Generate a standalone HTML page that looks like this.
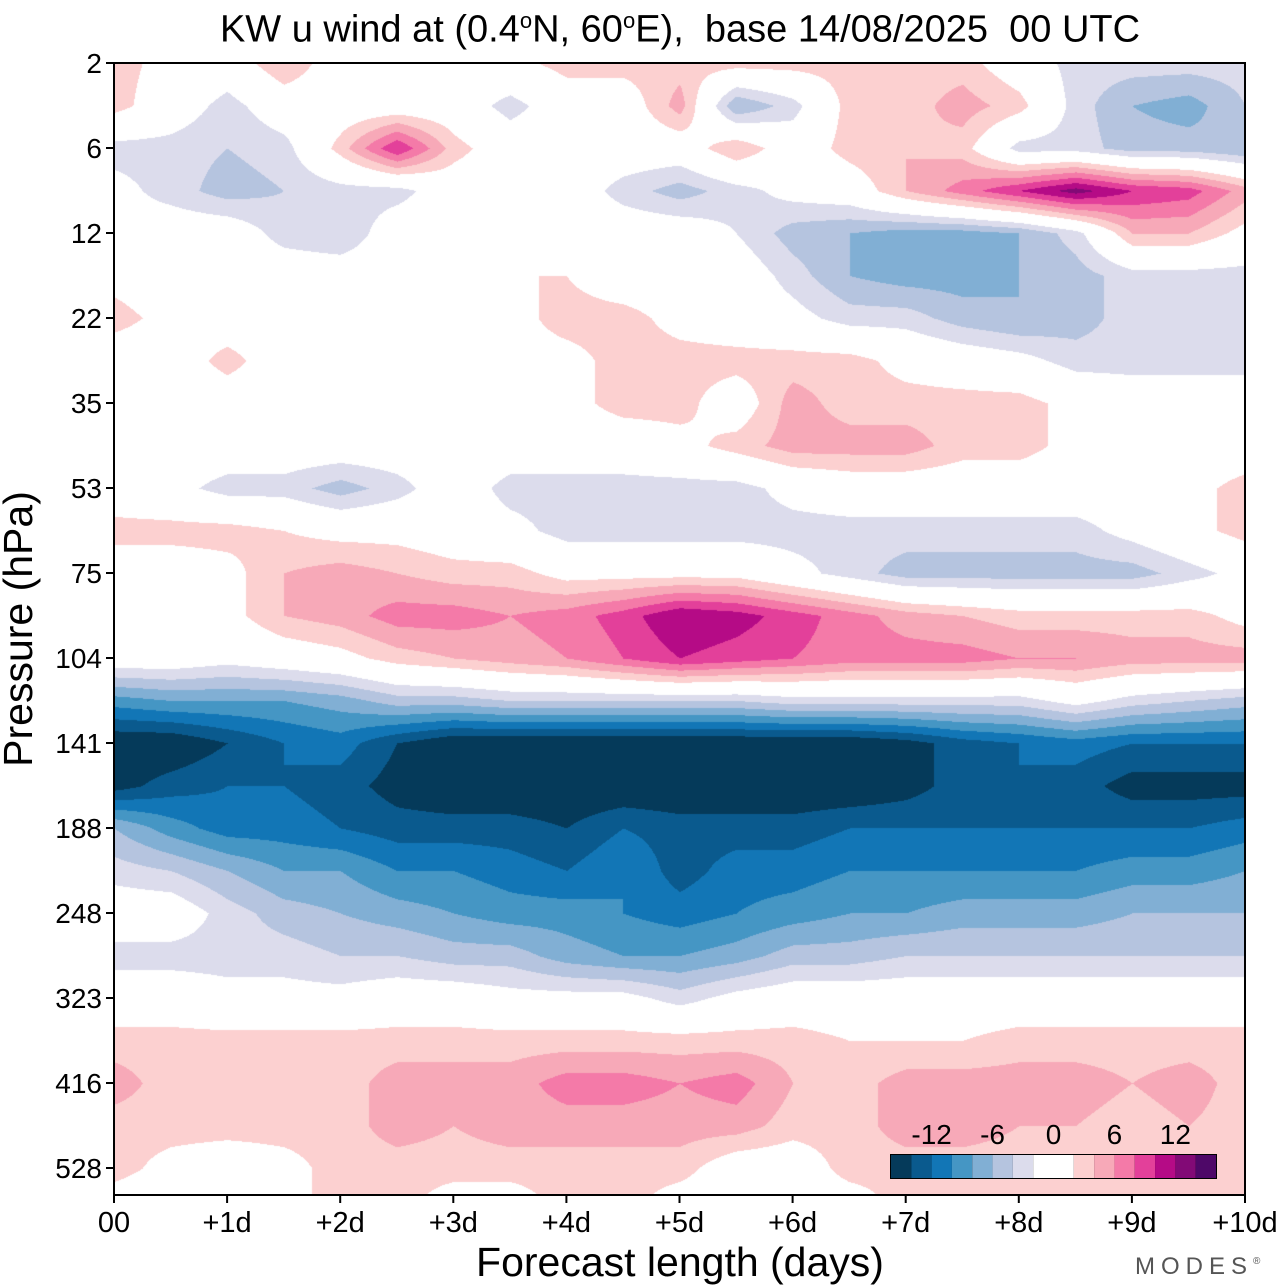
<!DOCTYPE html>
<html><head><meta charset="utf-8">
<style>
html,body{margin:0;padding:0;background:#fff;}
body{width:1280px;height:1286px;position:relative;overflow:hidden;font-family:"Liberation Sans",sans-serif;color:#000;}
.abs{position:absolute;}
</style></head>
<body>
<div class="abs" style="left:80px;width:1200px;top:-1px;text-align:center;font-size:38px;line-height:44px;">KW u wind at (0.4<sup style="font-size:22px">o</sup>N, 60<sup style="font-size:22px">o</sup>E),&nbsp; base 14/08/2025&nbsp; 00 UTC</div>
<svg class="abs" style="left:0;top:0" width="1280" height="1286">
  <foreignObject x="114" y="63" width="1131" height="1132">
    <canvas id="cv" width="1131" height="1132" xmlns="http://www.w3.org/1999/xhtml"></canvas>
  </foreignObject>
  <rect x="114" y="63" width="1131" height="1132" fill="none" stroke="#000" stroke-width="2"/>
  <g id="yaxis"></g>
  <g id="xaxis"></g>
  <g id="cbar"></g>
  <text x="32" y="629" transform="rotate(-90 32 629)" text-anchor="middle" font-size="41" font-family="Liberation Sans, sans-serif">Pressure (hPa)</text>
  <text x="680" y="1276" text-anchor="middle" font-size="41" font-family="Liberation Sans, sans-serif">Forecast length (days)</text>
  <text x="1135" y="1274" font-size="24" fill="#555" letter-spacing="6" font-family="Liberation Sans, sans-serif">MODES<tspan font-size="10" dy="-10">®</tspan></text>
</svg>
<script>
const pressureLabels = ["2","6","12","22","35","53","75","104","141","188","248","323","416","528"];
const dayLabels = ["00","+1d","+2d","+3d","+4d","+5d","+6d","+7d","+8d","+9d","+10d"];
const cbarLabels = [-12,-6,0,6,12];
const binEdges = [-14,-12,-10,-8,-6,-4,-2,0,2,4,6,8,10,12,14];
const binColors = ["#053a5a","#0a5a8e","#1276b6","#4596c4","#81afd4","#b5c4df","#dcdcec","#ffffff","#ffffff","#fcd0d0","#f7a9b8","#f47aa8","#e3409a","#b50b86","#820a76","#4e0868"];
// forecast day for each column
const colDays = [0,0.5,1,1.5,2,2.5,3,3.5,4,4.5,5,5.5,6,6.5,7,7.5,8,8.5,9,9.5,10];
// level index (0 = 2 hPa ... 13 = 528 hPa) for each row
const rowLevels = [0,0.5,1,1.5,2,2.5,3,3.5,4,4.5,5,5.5,6,6.5,7,7.5,8,8.5,9,9.5,10,10.5,11,11.5,12,12.5,13,13.32];
const uWind = [
[3,1,0,4,0,0,0,1,3,3,3,3,3,3,3,3,0,-3,-3,-3,-3],
[3,0,-3,0,0,0,0,-3,0,0,5,-6,-3,3,3,5,3,-3,-6,-7,-4],
[-3,-3,-4,-3,3,10,3,0,0,0,0,4,0,3,4,3,-3,-3,-5,-5,-6],
[-1,-3,-5,-4,-3,-3,0,0,0,-3,-5,-3,-1,0,4,7,10,13,10,9,5],
[-1,0,0,-3,-4,0,0,2,0,0,0,-2,-5,-6,-7,-7,-6,-3,4,4,1],
[1,0,0,0,0,0,0,2,2,0,0,0,-3,-6,-7,-7,-6,-5,-3,-3,-3],
[3,1,0,0,0,0,0,1,3,3,1,0,-1,-3,-3,-5,-6,-5,-3,-3,-3],
[0,0,3,0,1,0,0,1,1,3,3,3,3,3,1,0,-1,-3,-3,-3,-3],
[0,0,0,0,0,0,0,0,1,3,3,0,5,3,3,3,3,1,0,0,0],
[0,0,0,0,0,0,0,0,0,0,1,3,5,5,5,3,3,1,0,0,0],
[0,-1,-3,-3,-5,-3,0,-3,-3,-3,-3,-3,-1,0,0,0,0,0,0,1,3],
[3,3,3,2,1,1,0,-1,-3,-3,-3,-3,-3,-3,-3,-3,-3,-3,-1,1,3],
[0,0,1,4,5,4,3,3,1,1,1,1,-1,-3,-5,-5,-5,-5,-5,-3,-1],
[0,0,1,4,5,7,7,6,7,9,12,11,9,7,5,4,3,3,3,3,1],
[0,0,-1,0,1,3,4,5,6,8,10,9,8,7,7,7,6,6,5,5,5],
[-9,-8,-8,-8,-7,-5,-5,-4,-4,-4,-4,-4,-3,-3,-3,-3,-3,-1,-3,-4,-5],
[-16,-16,-14,-12,-11,-14,-16,-16,-16,-16,-16,-16,-16,-16,-15,-13,-12,-11,-12,-12,-12],
[-15,-13,-12,-12,-13,-15,-16,-16,-16,-16,-16,-16,-16,-16,-15,-13,-12,-13,-15,-15,-15],
[-6,-9,-11,-11,-12,-13,-13,-13,-14,-12,-13,-13,-13,-12,-12,-12,-12,-12,-12,-12,-11],
[-3,-4,-6,-8,-8,-10,-10,-11,-12,-10,-13,-11,-11,-10,-10,-10,-10,-10,-9,-9,-8],
[0,0,-3,-5,-6,-7,-8,-9,-9,-10,-11,-10,-9,-8,-8,-7,-7,-7,-6,-6,-6],
[-3,-3,-3,-3,-4,-4,-5,-5,-7,-8,-8,-7,-5,-5,-4,-4,-4,-4,-4,-4,-4],
[0,0,-1,-1,-1,0,0,-1,-1,-1,-3,-1,0,0,0,0,0,0,0,0,0],
[3,3,3,3,3,3,3,3,3,3,3,3,3,2,2,2,3,3,3,3,3],
[5,3,3,3,3,5,5,5,7,7,6,7,4,3,5,5,5,5,4,5,3],
[3,3,3,3,3,5,4,5,5,5,5,5,3,3,5,5,4,4,3,4,3],
[3,1,0,1,3,3,3,3,3,3,3,0,0,3,3,3,3,3,3,3,3],
[1,0,0,1,3,3,1,1,3,3,1,0,0,1,3,3,3,3,3,3,3]
];

const PX0=114, PX1=1245, PY0=63, PY1=1195;
const levelStep = 85;
const xOfDay = d => PX0 + (PX1-PX0)*d/10;
const yOfLevel = l => PY0 + l*levelStep;
const NS="http://www.w3.org/2000/svg";
function mk(tag, attrs){const e=document.createElementNS(NS,tag);for(const k in attrs)e.setAttribute(k,attrs[k]);return e;}
function hex(c){return [parseInt(c.slice(1,3),16),parseInt(c.slice(3,5),16),parseInt(c.slice(5,7),16)];}

// contour field
(function(){
  const cv=document.getElementById('cv');const ctx=cv.getContext('2d');
  const W=cv.width,H=cv.height;const img=ctx.createImageData(W,H);
  const rgb=binColors.map(hex);
  for(let py=0;py<H;py++){
    const lev=(py)/levelStep;
    let r=0;while(r<rowLevels.length-2 && rowLevels[r+1]<lev)r++;
    let ty=(lev-rowLevels[r])/(rowLevels[r+1]-rowLevels[r]);ty=Math.max(0,Math.min(1,ty));
    for(let px=0;px<W;px++){
      const d=px/(PX1-PX0)*10;
      let c=0;while(c<colDays.length-2 && colDays[c+1]<d)c++;
      let tx=(d-colDays[c])/(colDays[c+1]-colDays[c]);tx=Math.max(0,Math.min(1,tx));
      const v=(uWind[r][c]*(1-tx)+uWind[r][c+1]*tx)*(1-ty)+(uWind[r+1][c]*(1-tx)+uWind[r+1][c+1]*tx)*ty;
      let i=0;while(i<binEdges.length && v>=binEdges[i])i++;
      const col=rgb[i];const o=(py*W+px)*4;
      img.data[o]=col[0];img.data[o+1]=col[1];img.data[o+2]=col[2];img.data[o+3]=255;
    }
  }
  ctx.putImageData(img,0,0);
})();

// y axis
const ya=document.getElementById('yaxis');
pressureLabels.forEach((lab,i)=>{
  const y=yOfLevel(i);
  const t=mk('line',{x1:PX0-8,x2:PX0,y1:y,y2:y,stroke:'#000','stroke-width':2});
  
  
  ya.appendChild(t);
  const tx=mk('text',{x:PX0-12,y:y+10,'text-anchor':'end','font-size':28,'font-family':'Liberation Sans, sans-serif'});
  tx.textContent=lab;
  
  
  ya.appendChild(tx);
});
// x axis
const xa=document.getElementById('xaxis');
dayLabels.forEach((lab,i)=>{
  const x=xOfDay(i);
  const t=mk('line',{x1:x,x2:x,y1:PY1,y2:PY1+8,stroke:'#000','stroke-width':2});
  
  
  xa.appendChild(t);
  const tx=mk('text',{x:x,y:PY1+37,'text-anchor':'middle','font-size':29,'font-family':'Liberation Sans, sans-serif'});
  tx.textContent=lab;
  
  
  xa.appendChild(tx);
});
// colorbar
const cb=document.getElementById('cbar');
const CB0=891, CBW=325, CBY=1155, CBH=23, bw=CBW/binColors.length;
const cbBg=mk('rect',{x:CB0-1,y:CBY-1,width:CBW+2,height:CBH+2,fill:'#000'});


cb.appendChild(cbBg);
binColors.forEach((c,i)=>{
  const r=mk('rect',{x:CB0+i*bw,y:CBY,width:bw,height:CBH,fill:c});
  
  
  cb.appendChild(r);
});
cbarLabels.forEach(v=>{
  const x=CB0+(v-binEdges[0])/2*bw+bw;
  const t=mk('text',{x:x,y:CBY-11,'text-anchor':'middle','font-size':28,'font-family':'Liberation Sans, sans-serif'});
  t.textContent=String(v);
  
  
  cb.appendChild(t);
});
</script>
</body></html>
